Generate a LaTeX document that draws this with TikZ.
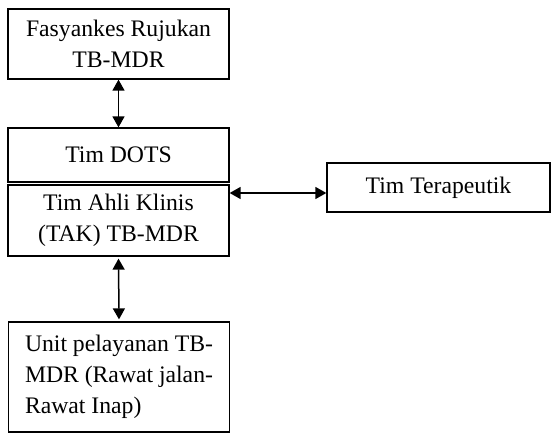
\documentclass[tikz,border=0pt]{standalone}
\usepackage{fontspec}
\setmainfont{Liberation Serif}
\usetikzlibrary{arrows.meta}
\begin{document}
\begin{tikzpicture}[x=1pt,y=1pt,
  box/.style={draw, line width=1.3pt, inner sep=0pt, font=\fontsize{23.7}{31}\selectfont, align=center},
  dbl/.style={line width=1.5pt, {Triangle[length=11pt,width=12pt]}-{Triangle[length=11pt,width=12pt]}}]
\useasboundingbox (0,0) rectangle (555,-434);
\node[box, minimum width=221pt, minimum height=70pt] (f) at (118.5,-44) {Fasyankes Rujukan\\TB-MDR};
\node[box, minimum width=221pt, minimum height=54pt] (d) at (118.5,-155) {Tim DOTS};
\node[box, minimum width=221pt, minimum height=71pt] (t) at (118.5,-220.5) {Tim Ahli Klinis\\(TAK) TB-MDR};
\node[box, minimum width=221pt, minimum height=110pt, align=justify, text width=188pt] (u) at (119,-377) {Unit pelayanan TB-\\MDR (Rawat jalan-\\Rawat Inap)};
\node[box, minimum width=223pt, minimum height=49pt] (r) at (438.5,-187.5) {Tim Terapeutik};
\coordinate (h) at (0,-193);
\draw[dbl] (f.south) -- (d.north);
\draw[dbl] ([yshift=-2pt]t.south) -- ([yshift=2pt]u.north);
\draw[dbl] (t.east |- h) -- (r.west |- h);
\end{tikzpicture}
\end{document}
